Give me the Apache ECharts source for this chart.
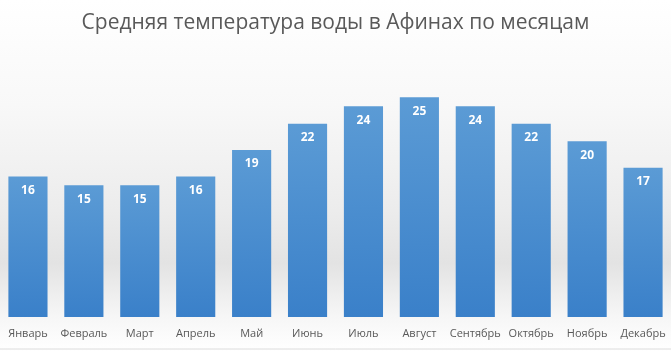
<!DOCTYPE html>
<html><head><meta charset="utf-8">
<script src="https://cdn.jsdelivr.net/npm/echarts@6/dist/echarts.min.js"></script>
<style>html,body{margin:0;padding:0;background:#fff}#c{width:671px;height:351px}</style>
</head><body><div id="c"></div>
<script>
const titleText = 'Средняя температура воды в Афинах по месяцам';
const months = ['Январь','Февраль','Март','Апрель','Май','Июнь','Июль','Август','Сентябрь','Октябрь','Ноябрь','Декабрь'];
const temps = [16,15,15,16,19,22,24,25,24,22,20,17];

const chart = echarts.init(document.getElementById('c'), null, {renderer:'canvas'});
chart.setOption({
  animation:false,
  backgroundColor: new echarts.graphic.LinearGradient(0,0,0,1,[
    {offset:0,color:'#ffffff'},
    {offset:0.3,color:'#f8f8f8'},
    {offset:0.6,color:'#ececec'},
    {offset:0.75,color:'#e3e3e3'},
    {offset:0.9,color:'#f6f6f6'},
    {offset:1,color:'#ffffff'}
  ]),
  title:{text:titleText,left:'center',top:8,
    textStyle:{fontFamily:'Open Sans',fontSize:21,fontWeight:'normal',color:'#595959'}},
  grid:{left:0,right:0,top:71,bottom:34,containLabel:false},
  xAxis:{type:'category',data:months,
    axisLine:{show:false},axisTick:{show:false},
    axisLabel:{color:'#595959',fontFamily:'Open Sans',fontSize:11,margin:11,interval:0}},
  yAxis:{type:'value',min:0,max:28,show:false,splitLine:{show:false}},
  series:[{type:'bar',data:temps,barCategoryGap:'30%',
    itemStyle:{color:new echarts.graphic.LinearGradient(0,0,0,1,[
      {offset:0,color:'#5b9bd5'},{offset:1,color:'#3a80c9'}])},
    label:{show:true,position:'insideTop',distance:8,color:'#ffffff',fontWeight:'bold',
      fontFamily:'Open Sans',fontSize:12}}],
  graphic:[{type:'line',shape:{x1:0,y1:349,x2:671,y2:349},style:{stroke:'#dcdcdc',lineWidth:1}}]
});
</script></body></html>
